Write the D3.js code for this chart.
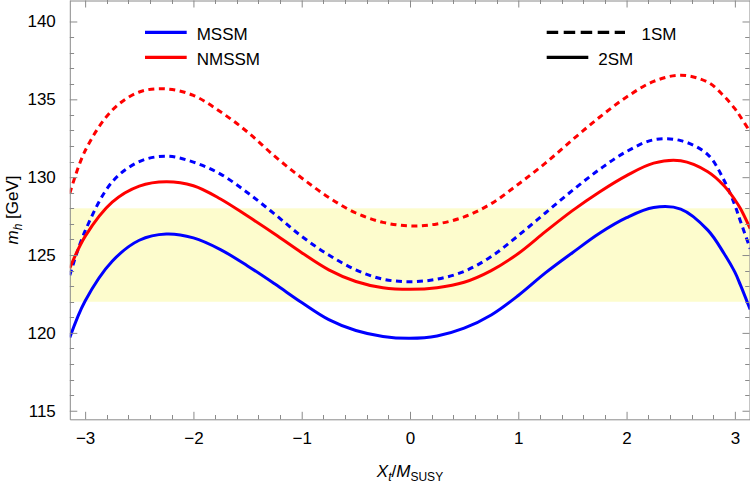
<!DOCTYPE html>
<html>
<head>
<meta charset="utf-8">
<script src="https://cdn.jsdelivr.net/npm/d3@7"></script>
<style>
  body { margin: 0; background: #fff; }
  text { font-family: "Liberation Sans", Arial, sans-serif; }
</style>
</head>
<body>
<div id="chart"></div>
<script>
let width = 750, height = 482;

// X_t / M_SUSY sample points
const xt = [-Math.PI, -3, -2.75, -2.5, -2.25, -2, -1.75, -1.5, -1.25, -1, -0.75, -0.5, -0.25,
    0, 0.25, 0.5, 0.75, 1, 1.25, 1.5, 1.75, 2, 2.25, 2.5, 2.75, 2.9, 3, 3.05, Math.PI];

// m_h [GeV]
const nmssm1 = [128.96, 131.7, 134.3, 135.47, 135.67, 135.25, 134.2, 132.9, 131.35, 129.95, 128.7, 127.7, 127.1,
    126.87, 127.0, 127.45, 128.3, 129.55, 130.9, 132.4, 133.85, 135.15, 136.15, 136.55, 136.1, 135.2, 134.4, 133.9, 132.9];
const mssm1 = [123.7, 126.55, 129.7, 131.0, 131.35, 130.97, 130.2, 129.0, 127.63, 126.2, 125.0, 124.05, 123.45,
    123.29, 123.45, 123.95, 124.9, 126.25, 127.7, 129.15, 130.5, 131.65, 132.4, 132.35, 131.45, 129.8, 128.2, 127.2, 125.4];
const nmssm2 = [124.15, 126.2, 128.4, 129.43, 129.71, 129.45, 128.6, 127.5, 126.35, 125.15, 124.05, 123.3, 122.9,
    122.8, 122.9, 123.25, 124.0, 125.1, 126.5, 127.85, 129.05, 130.1, 130.9, 131.05, 130.35, 129.45, 128.55, 128.0, 126.7];
const mssm2 = [119.7, 122.05, 124.6, 125.95, 126.35, 126.1, 125.35, 124.3, 123.15, 121.95, 120.85, 120.15, 119.77,
    119.65, 119.8, 120.3, 121.15, 122.4, 123.85, 125.15, 126.4, 127.4, 128.05, 127.95, 126.6, 125.1, 123.9, 123.1, 121.5];

const band = [122, 128];
const xTicks = [-3, -2, -1, 0, 1, 2, 3];
const yTicks = [115, 120, 125, 130, 135, 140];

const series = [
    {name: "MSSM 1SM", values: mssm1, color: "#0000ff", dashed: true},
    {name: "NMSSM 1SM", values: nmssm1, color: "#ff0000", dashed: true},
    {name: "MSSM 2SM", values: mssm2, color: "#0000ff", dashed: false},
    {name: "NMSSM 2SM", values: nmssm2, color: "#ff0000", dashed: false}
];

let plot = {left: 69.8, right: 750.2, top: 0, bottom: 419.3};

let xScale = d3.scaleLinear()
    .domain([-Math.PI, Math.PI])
    .range([plot.left, plot.right]);

let yScale = d3.scaleLinear()
    .domain([114.45, 141.38])
    .range([plot.bottom, plot.top]);

let svg = d3.select("#chart")
    .append("svg")
    .attr("width", width)
    .attr("height", height);

svg.append("defs").append("clipPath")
    .attr("id", "clip")
    .append("rect")
    .attr("x", plot.left)
    .attr("y", plot.top)
    .attr("width", plot.right - plot.left)
    .attr("height", plot.bottom - plot.top);

// yellow band
svg.append("rect")
    .attr("x", xScale(-Math.PI))
    .attr("y", yScale(band[1]))
    .attr("width", xScale(Math.PI) - xScale(-Math.PI))
    .attr("height", yScale(band[0]) - yScale(band[1]))
    .attr("fill", "#fdfccd");

// curves
let line = d3.line()
    .x(function(d) { return xScale(d[0]); })
    .y(function(d) { return yScale(d[1]); })
    .curve(d3.curveCatmullRom.alpha(0.5));

let curves = svg.append("g").attr("clip-path", "url(#clip)");

series.forEach(function(s) {
    curves.append("path")
        .datum(xt.map(function(x, i) { return [x, s.values[i]]; }))
        .attr("fill", "none")
        .attr("stroke", s.color)
        .attr("stroke-width", 3)
        .attr("stroke-dasharray", s.dashed ? "6,4.5" : null)
        .attr("d", line);
});

// frame with inward ticks
const frameColor = "#8a8a8a";
let xMinor = d3.range(-3.0, 3.01, 0.2).map(function(v) { return Math.round(v * 10) / 10; });
let yMinor = d3.range(115, 141, 1);

let xAxisB = d3.axisBottom(xScale).tickValues(xTicks).tickSize(-7.5).tickPadding(13)
    .tickFormat(d3.format("d")).tickSizeOuter(0);
let xAxisT = d3.axisTop(xScale).tickValues(xTicks).tickSize(-7).tickFormat("").tickSizeOuter(0);
let yAxisL = d3.axisLeft(yScale).tickValues(yTicks).tickSize(-7.5).tickPadding(14)
    .tickFormat(d3.format("d")).tickSizeOuter(0);
let yAxisR = d3.axisRight(yScale).tickValues(yTicks).tickSize(-7).tickFormat("").tickSizeOuter(0);

function styleAxis(g) {
    g.select(".domain").attr("stroke", frameColor);
    g.selectAll(".tick line").attr("stroke", frameColor);
    g.selectAll(".tick text")
        .attr("fill", "#000")
        .style("font-size", "17px")
        .style("font-family", "'Liberation Sans', Arial, sans-serif");
}

let gXB = svg.append("g").attr("transform", `translate(0,${plot.bottom})`).call(xAxisB).call(styleAxis);
let gXT = svg.append("g").attr("transform", `translate(0,${plot.top + 0.5})`).call(xAxisT).call(styleAxis);
let gYL = svg.append("g").attr("transform", `translate(${plot.left},0)`).call(yAxisL).call(styleAxis);
let gYR = svg.append("g").attr("transform", `translate(749.5,0)`).call(yAxisR).call(styleAxis);

// minus sign like the original
gXB.selectAll(".tick text").text(function(d) { return d < 0 ? "\u2212" + Math.abs(d) : d; });

// minor ticks
let minor = svg.append("g").attr("stroke", frameColor).attr("stroke-width", 1);
xMinor.filter(function(v) { return xTicks.indexOf(v) < 0; }).forEach(function(v) {
    let x = Math.round(xScale(v)) + 0.5;
    minor.append("line").attr("x1", x).attr("x2", x).attr("y1", plot.bottom).attr("y2", plot.bottom - 4.3);
    minor.append("line").attr("x1", x).attr("x2", x).attr("y1", plot.top).attr("y2", plot.top + 4);
});
yMinor.filter(function(v) { return yTicks.indexOf(v) < 0; }).forEach(function(v) {
    let y = Math.round(yScale(v)) + 0.5;
    minor.append("line").attr("x1", plot.left).attr("x2", plot.left + 4.3).attr("y1", y).attr("y2", y);
    minor.append("line").attr("x1", 749.5).attr("x2", 749.5 - 4.3).attr("y1", y).attr("y2", y);
});

// axis titles
let xTitle = svg.append("text")
    .attr("text-anchor", "middle")
    .attr("x", 410)
    .attr("y", 476.5)
    .style("font-size", "17px");
xTitle.append("tspan").attr("font-style", "italic").text("X");
xTitle.append("tspan").attr("font-style", "italic").attr("dy", 4).style("font-size", "12px").text("t");
xTitle.append("tspan").attr("dy", -4).text("/");
xTitle.append("tspan").attr("font-style", "italic").text("M");
xTitle.append("tspan").attr("dy", 4).style("font-size", "12px").text("SUSY");

let yTitle = svg.append("text")
    .attr("text-anchor", "middle")
    .attr("transform", "translate(18,210) rotate(-90)")
    .style("font-size", "17px");
yTitle.append("tspan").attr("font-style", "italic").text("m");
yTitle.append("tspan").attr("font-style", "italic").attr("dy", 4).style("font-size", "12px").text("h");
yTitle.append("tspan").attr("dy", -4).text(" [GeV]");

// legends
const legendModels = [
    {label: "MSSM", color: "#0000ff", y: 32.3},
    {label: "NMSSM", color: "#ff0000", y: 57.3}
];
const legendStyles = [
    {label: "1SM", dashed: true, x2: 625, tx: 641.5, y: 32.3},
    {label: "2SM", dashed: false, x2: 588.3, tx: 598.3, y: 57.3}
];

legendModels.forEach(function(l) {
    svg.append("line")
        .attr("x1", 145).attr("x2", 186.7)
        .attr("y1", l.y).attr("y2", l.y)
        .attr("stroke", l.color).attr("stroke-width", 3.3);
    svg.append("text")
        .attr("x", 196.7).attr("y", l.y + 7.7)
        .style("font-size", "17px")
        .text(l.label);
});

legendStyles.forEach(function(l) {
    svg.append("line")
        .attr("x1", 546.7).attr("x2", l.x2)
        .attr("y1", l.y).attr("y2", l.y)
        .attr("stroke", "#000").attr("stroke-width", 3.3)
        .attr("stroke-dasharray", l.dashed ? "11.5,5.5" : null);
    svg.append("text")
        .attr("x", l.tx).attr("y", l.y + 7.7)
        .style("font-size", "17px")
        .text(l.label);
});
</script>
</body>
</html>
